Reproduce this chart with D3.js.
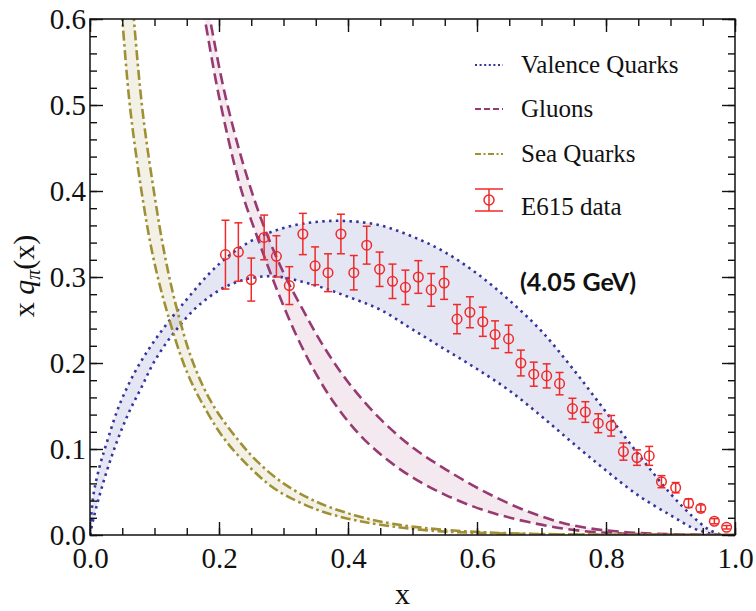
<!DOCTYPE html>
<html>
<head>
<meta charset="utf-8">
<script src="https://cdn.jsdelivr.net/npm/d3@7/dist/d3.min.js"></script>
<style>
  body { margin: 0; background: #fff; }
  svg text { font-family: "Liberation Serif", "Times New Roman", serif; }
</style>
</head>
<body>
<div id="chart"></div>
<script>
// band edges, pairs of [x, x q(x)]
const valenceUpper = [[0, 0], [0.005, 0.045], [0.015, 0.08], [0.025, 0.105], [0.045, 0.15], [0.07, 0.19],
    [0.10, 0.226], [0.14, 0.265], [0.20, 0.315], [0.25, 0.342], [0.30, 0.357], [0.35, 0.364], [0.40, 0.365],
    [0.45, 0.360], [0.50, 0.347], [0.55, 0.329], [0.60, 0.304], [0.65, 0.273], [0.70, 0.237], [0.75, 0.192],
    [0.80, 0.143], [0.85, 0.094], [0.90, 0.048], [0.935, 0.021], [0.96, 0.006], [0.98, 0]];
const valenceLower = [[0, 0], [0.006, 0.021], [0.021, 0.062], [0.04, 0.105], [0.06, 0.142], [0.08, 0.172],
    [0.10, 0.202], [0.13, 0.235], [0.17, 0.268], [0.22, 0.292], [0.28, 0.301], [0.35, 0.290], [0.40, 0.277],
    [0.45, 0.262], [0.50, 0.239], [0.55, 0.216], [0.60, 0.193], [0.65, 0.168], [0.70, 0.138], [0.75, 0.106],
    [0.80, 0.075], [0.85, 0.046], [0.90, 0.023], [0.935, 0.008], [0.96, 0.002], [0.975, 0]];

const gluonUpper = [[0.174, 0.65], [0.186, 0.60], [0.21, 0.51], [0.24, 0.425], [0.27, 0.358], [0.30, 0.305],
    [0.33, 0.262], [0.36, 0.222], [0.40, 0.178], [0.45, 0.135], [0.50, 0.102], [0.55, 0.077], [0.61, 0.051],
    [0.68, 0.027], [0.75, 0.011], [0.82, 0.004], [0.90, 0.001], [1.0, 0]];
const gluonLower = [[0.166, 0.65], [0.178, 0.60], [0.20, 0.51], [0.233, 0.405], [0.26, 0.345], [0.29, 0.285],
    [0.32, 0.232], [0.35, 0.188], [0.38, 0.152], [0.42, 0.115], [0.46, 0.088], [0.50, 0.067], [0.55, 0.047],
    [0.61, 0.029], [0.68, 0.015], [0.76, 0.005], [0.85, 0.001], [1.0, 0]];

const seaUpper = [[0.058, 0.70], [0.068, 0.60], [0.082, 0.49], [0.099, 0.40], [0.116, 0.325], [0.135, 0.262],
    [0.16, 0.20], [0.19, 0.152], [0.228, 0.112], [0.26, 0.085], [0.30, 0.060], [0.35, 0.039], [0.41, 0.023],
    [0.47, 0.013], [0.55, 0.006], [0.65, 0.002], [0.80, 0.0004], [1.0, 0]];
const seaLower = [[0.039, 0.70], [0.050, 0.60], [0.062, 0.498], [0.080, 0.399], [0.098, 0.323], [0.12, 0.258],
    [0.15, 0.19], [0.18, 0.145], [0.21, 0.11], [0.25, 0.077], [0.29, 0.052], [0.35, 0.030], [0.40, 0.019],
    [0.45, 0.012], [0.53, 0.005], [0.65, 0.0015], [0.80, 0.0003], [1.0, 0]];

// E615 data
const e615X = [0.210, 0.230, 0.250, 0.270, 0.289, 0.309, 0.330, 0.349, 0.369, 0.389, 0.409, 0.429, 0.449,
    0.469, 0.489, 0.509, 0.529, 0.549, 0.569, 0.589, 0.609, 0.628, 0.649, 0.668, 0.688, 0.708, 0.728, 0.748,
    0.768, 0.788, 0.808, 0.827, 0.848, 0.867, 0.886, 0.908, 0.928, 0.947, 0.968, 0.987];
const e615Y = [0.326, 0.329, 0.297, 0.346, 0.324, 0.290, 0.350, 0.313, 0.305, 0.350, 0.305, 0.337, 0.309,
    0.295, 0.288, 0.300, 0.285, 0.293, 0.251, 0.259, 0.248, 0.233, 0.228, 0.200, 0.187, 0.185, 0.176, 0.147,
    0.143, 0.130, 0.127, 0.097, 0.090, 0.092, 0.062, 0.055, 0.037, 0.031, 0.016, 0.009];
const e615Err = [0.040, 0.034, 0.025, 0.026, 0.024, 0.022, 0.024, 0.022, 0.022, 0.023, 0.020, 0.022, 0.020,
    0.020, 0.020, 0.019, 0.019, 0.019, 0.017, 0.018, 0.017, 0.016, 0.016, 0.015, 0.014, 0.014, 0.013, 0.012,
    0.012, 0.011, 0.012, 0.010, 0.009, 0.011, 0.007, 0.006, 0.005, 0.004, 0.003, 0.002];

const legendLabels = ["Valence Quarks", "Gluons", "Sea Quarks", "E615 data"];
const xTicks = [0, 0.2, 0.4, 0.6, 0.8, 1.0];
const yTicks = [0, 0.1, 0.2, 0.3, 0.4, 0.5, 0.6];
const scaleLabel = "(4.05 GeV)";

const width = 756;
const height = 611;
const margin = { top: 19, right: 21, bottom: 76, left: 90 };
const plotW = width - margin.left - margin.right;
const plotH = height - margin.top - margin.bottom;

const svg = d3.select("#chart").append("svg")
    .attr("width", width)
    .attr("height", height);

const x = d3.scaleLinear().domain([0, 1]).range([0, plotW]);
const y = d3.scaleLinear().domain([0, 0.6]).range([plotH, 0]);

const plot = svg.append("g")
    .attr("transform", `translate(${margin.left},${margin.top})`);

plot.append("defs").append("clipPath")
    .attr("id", "plot-clip")
    .append("rect")
    .attr("width", plotW)
    .attr("height", plotH);

const lineGen = d3.line()
    .x(d => x(d[0]))
    .y(d => y(d[1]))
    .curve(d3.curveCatmullRom.alpha(0.5));

function bandPath(upper, lower) {
    const back = lineGen(lower.slice().reverse());
    return lineGen(upper) + "L" + back.slice(1) + "Z";
}

const bands = [
    { upper: valenceUpper, lower: valenceLower, fill: "rgba(70,80,170,0.14)", stroke: "#34349a", dash: "2.5 4.3", width: 2.6 },
    { upper: gluonUpper, lower: gluonLower, fill: "rgba(170,70,130,0.12)", stroke: "#963a72", dash: "11 5.5", width: 2.6 },
    { upper: seaUpper, lower: seaLower, fill: "rgba(165,150,60,0.13)", stroke: "#a09035", dash: "10 3.5 2.6 3.5", width: 2.6 }
];

const curves = plot.append("g").attr("clip-path", "url(#plot-clip)");

bands.forEach(b => {
    curves.append("path")
        .attr("d", bandPath(b.upper, b.lower))
        .attr("fill", b.fill)
        .attr("stroke", "none");
});

bands.forEach(b => {
    [b.upper, b.lower].forEach(edge => {
        curves.append("path")
            .attr("d", lineGen(edge))
            .attr("fill", "none")
            .attr("stroke", b.stroke)
            .attr("stroke-width", b.width)
            .attr("stroke-dasharray", b.dash);
    });
});

// data points with error bars
const red = "#ee2a2a";
const pts = plot.append("g").attr("stroke", red).attr("fill", "none").attr("stroke-width", 1.5);
e615X.forEach((xv, i) => {
    const cx = x(xv);
    const yTop = y(e615Y[i] + e615Err[i]);
    const yBot = y(e615Y[i] - e615Err[i]);
    pts.append("line").attr("x1", cx).attr("x2", cx).attr("y1", yTop).attr("y2", yBot);
    pts.append("line").attr("x1", cx - 4).attr("x2", cx + 4).attr("y1", yTop).attr("y2", yTop);
    pts.append("line").attr("x1", cx - 4).attr("x2", cx + 4).attr("y1", yBot).attr("y2", yBot);
    pts.append("circle").attr("cx", cx).attr("cy", y(e615Y[i])).attr("r", 4.8).attr("fill", "none");
});

// axes with inward ticks on all sides
const xMinor = d3.range(0, 1.0001, 0.05);
const yMinor = d3.range(0, 0.6001, 0.02);
const fmt = d3.format(".1f");

function styleAxis(g) {
    g.select(".domain").remove();
    g.selectAll(".tick line").attr("stroke", "#111").attr("stroke-width", 1.4);
    g.selectAll(".tick text")
        .attr("fill", "#111")
        .style("font-family", "'Liberation Serif', serif")
        .style("font-size", "29px");
}

plot.append("g").attr("transform", `translate(0,${plotH})`)
    .call(d3.axisBottom(x).tickValues(xMinor).tickSize(-7).tickFormat(""))
    .call(styleAxis);
plot.append("g").attr("transform", `translate(0,${plotH})`)
    .call(d3.axisBottom(x).tickValues(xTicks).tickSize(-13).tickPadding(12).tickFormat(fmt))
    .call(styleAxis);
plot.append("g")
    .call(d3.axisTop(x).tickValues(xMinor).tickSize(-7).tickFormat(""))
    .call(styleAxis);
plot.append("g")
    .call(d3.axisTop(x).tickValues(xTicks).tickSize(-13).tickFormat(""))
    .call(styleAxis);

plot.append("g")
    .call(d3.axisLeft(y).tickValues(yMinor).tickSize(-7).tickFormat(""))
    .call(styleAxis);
plot.append("g")
    .call(d3.axisLeft(y).tickValues(yTicks).tickSize(-13).tickPadding(4).tickFormat(fmt))
    .call(styleAxis);
plot.append("g").attr("transform", `translate(${plotW},0)`)
    .call(d3.axisRight(y).tickValues(yMinor).tickSize(-7).tickFormat(""))
    .call(styleAxis);
plot.append("g").attr("transform", `translate(${plotW},0)`)
    .call(d3.axisRight(y).tickValues(yTicks).tickSize(-13).tickFormat(""))
    .call(styleAxis);

plot.append("rect")
    .attr("width", plotW)
    .attr("height", plotH)
    .attr("fill", "none")
    .attr("stroke", "#111")
    .attr("stroke-width", 1.5);

// axis titles
svg.append("text")
    .attr("x", margin.left + plotW / 2 - 10)
    .attr("y", 604)
    .attr("text-anchor", "middle")
    .attr("font-size", 30)
    .attr("fill", "#111")
    .text("x");

const yTitle = svg.append("text")
    .attr("transform", "translate(34,276) rotate(-90)")
    .attr("text-anchor", "middle")
    .attr("font-size", 30)
    .attr("fill", "#111");
yTitle.append("tspan").text("x ");
yTitle.append("tspan").attr("font-style", "italic").text("q");
yTitle.append("tspan").attr("font-style", "italic").attr("font-size", 20).attr("dy", 6).text("π");
yTitle.append("tspan").attr("dy", -6).text("(x)");

// legend
const legend = svg.append("g").attr("transform", "translate(475,0)");
const rowY = [65, 109, 154, 200];
bands.forEach((b, i) => {
    legend.append("line")
        .attr("x1", 0).attr("x2", 28)
        .attr("y1", rowY[i]).attr("y2", rowY[i])
        .attr("stroke", b.stroke)
        .attr("stroke-width", 2.2)
        .attr("stroke-dasharray", i === 0 ? "2 2.6" : i === 1 ? "6 3" : "6 2.5 2 2.5");
});
const lg = legend.append("g").attr("stroke", red).attr("stroke-width", 1.5).attr("fill", "none");
lg.append("line").attr("x1", 14).attr("x2", 14).attr("y1", 189).attr("y2", 211);
lg.append("line").attr("x1", 0).attr("x2", 28).attr("y1", 189).attr("y2", 189);
lg.append("line").attr("x1", 0).attr("x2", 28).attr("y1", 211).attr("y2", 211);
lg.append("circle").attr("cx", 14).attr("cy", 200).attr("r", 5);

legendLabels.forEach((label, i) => {
    legend.append("text")
        .attr("x", 46)
        .attr("y", rowY[i] + (i === 3 ? 12 : 5) + 3)
        .attr("font-size", 25)
        .attr("fill", "#111")
        .text(label);
});

svg.append("text")
    .attr("x", 520)
    .attr("y", 291)
    .style("font-family", "Lato, 'Open Sans', sans-serif")
    .attr("font-weight", "bold")
    .attr("font-size", 25)
    .attr("fill", "#111")
    .text(scaleLabel);
</script>
</body>
</html>
